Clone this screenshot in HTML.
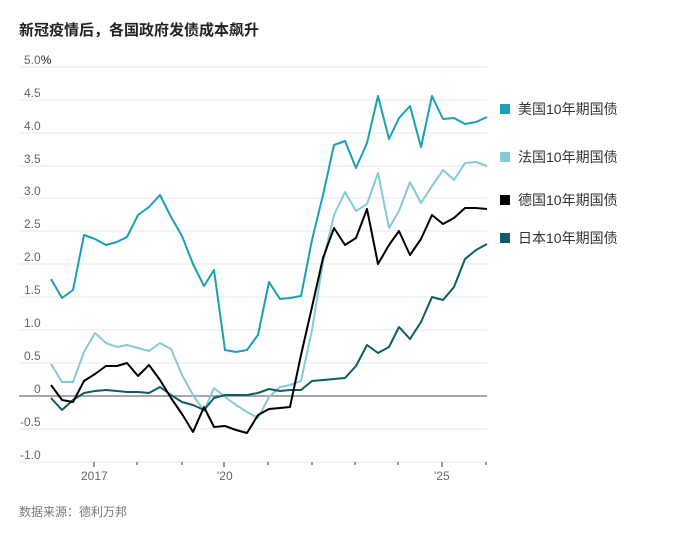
<!DOCTYPE html><html><head><meta charset="utf-8"><style>
body{margin:0;background:#fff;width:695px;height:540px;overflow:hidden;font-family:"Liberation Sans","Noto Sans CJK SC",sans-serif}
</style></head><body>
<svg width="695" height="540" xmlns="http://www.w3.org/2000/svg" font-family="Liberation Sans, Noto Sans CJK SC, sans-serif">
<text x="19" y="35" font-size="15" font-weight="bold" fill="#222">新冠疫情后，各国政府发债成本飙升</text>
<g stroke="#efefef" stroke-width="1.5">
<line x1="19" x2="487" y1="67" y2="67"/><line x1="19" x2="487" y1="100" y2="100"/><line x1="19" x2="487" y1="133" y2="133"/><line x1="19" x2="487" y1="166" y2="166"/><line x1="19" x2="487" y1="198" y2="198"/><line x1="19" x2="487" y1="231" y2="231"/><line x1="19" x2="487" y1="264" y2="264"/><line x1="19" x2="487" y1="297" y2="297"/><line x1="19" x2="487" y1="330" y2="330"/><line x1="19" x2="487" y1="363" y2="363"/><line x1="19" x2="487" y1="429" y2="429"/><line x1="19" x2="487" y1="462" y2="462"/>
</g>
<line x1="19" x2="487" y1="396" y2="396" stroke="#888" stroke-width="1.5"/>
<g font-size="12" fill="#666">
<text x="24" y="64">5.0<tspan fill="#222">%</tspan></text><text x="24" y="97">4.5</text><text x="24" y="130">4.0</text><text x="24" y="163">3.5</text><text x="24" y="195">3.0</text><text x="24" y="228">2.5</text><text x="24" y="261">2.0</text><text x="24" y="294">1.5</text><text x="24" y="327">1.0</text><text x="24" y="360">0.5</text><text x="34" y="393">0</text><text x="20" y="426">-0.5</text><text x="20" y="459">-1.0</text>
<text x="81" y="480">2017</text><text x="217" y="480">'20</text><text x="434" y="480">'25</text>
</g>
<g stroke="#333" stroke-width="1">
<line x1="94" x2="94" y1="462" y2="467"/><line x1="137" x2="137" y1="462" y2="465"/><line x1="182" x2="182" y1="462" y2="465"/><line x1="224" x2="224" y1="462" y2="467"/><line x1="268" x2="268" y1="462" y2="465"/><line x1="312" x2="312" y1="462" y2="465"/><line x1="355" x2="355" y1="462" y2="465"/><line x1="398" x2="398" y1="462" y2="465"/><line x1="442" x2="442" y1="462" y2="467"/><line x1="486" x2="486" y1="462" y2="465"/>
</g>
<g fill="none" stroke-width="2" stroke-linejoin="round">
<polyline stroke="#86c9d8" points="51,364 62,382 73,382 84,352 95,333 106,343 117,347 127,345 138,348 149,351 160,343 171,349 182,375 193,395 204,411 214,388 225,397 236,405 247,412 258,418 269,397 280,387 290,385 301,381 312,330 323,262 334,215 345,192 356,211 367,204 378,173 389,228 399,211 410,182 421,203 432,186 443,170 454,180 465,163 476,162 487,166"/>
<polyline stroke="#0b5e63" points="51,398 62,410 73,400 84,393 95,391 106,390 117,391 127,392 138,392 149,393 160,387 171,395 182,402 193,405 204,410 214,398 225,395 236,395 247,395 258,393 269,389 280,391 290,390 301,390 312,381 323,380 334,379 345,378 356,366 367,345 378,353 389,347 399,327 410,339 421,322 432,297 443,300 454,287 465,259 476,250 487,244"/>
<polyline stroke="#000" points="51,385 62,400 73,402 84,381 95,374 106,366 117,366 127,363 138,376 149,365 160,380 171,398 182,414 193,432 204,407 214,427 225,426 236,430 247,433 258,415 269,409 280,408 290,407 301,355 312,307 323,258 334,228 345,245 356,238 367,209 378,264 389,245 399,231 410,255 421,239 432,215 443,224 454,218 465,208 476,208 487,209"/>
<polyline stroke="#1a9fb8" points="51,279 62,298 73,290 84,235 95,239 106,245 117,242 127,237 138,215 149,207 160,195 171,217 182,236 193,264 204,286 214,270 225,350 236,352 247,350 258,335 269,282 280,299 290,298 301,296 312,240 323,195 334,145 345,141 356,168 367,143 378,96 389,139 399,118 410,106 421,147 432,96 443,119 454,118 465,124 476,122 487,117"/>
</g>
<g font-size="14" fill="#333">
<rect x="500" y="104" width="10" height="10" fill="#1a9fb8"/><text x="518" y="114">美国10年期国债</text>
<rect x="500" y="152" width="10" height="10" fill="#86c9d8"/><text x="518" y="162">法国10年期国债</text>
<rect x="500" y="195" width="10" height="10" fill="#000"/><text x="518" y="205">德国10年期国债</text>
<rect x="500" y="233" width="10" height="10" fill="#0b5e63"/><text x="518" y="243">日本10年期国债</text>
</g>
<text x="19" y="516" font-size="12" fill="#777">数据来源：德利万邦</text>
</svg>
</body></html>
